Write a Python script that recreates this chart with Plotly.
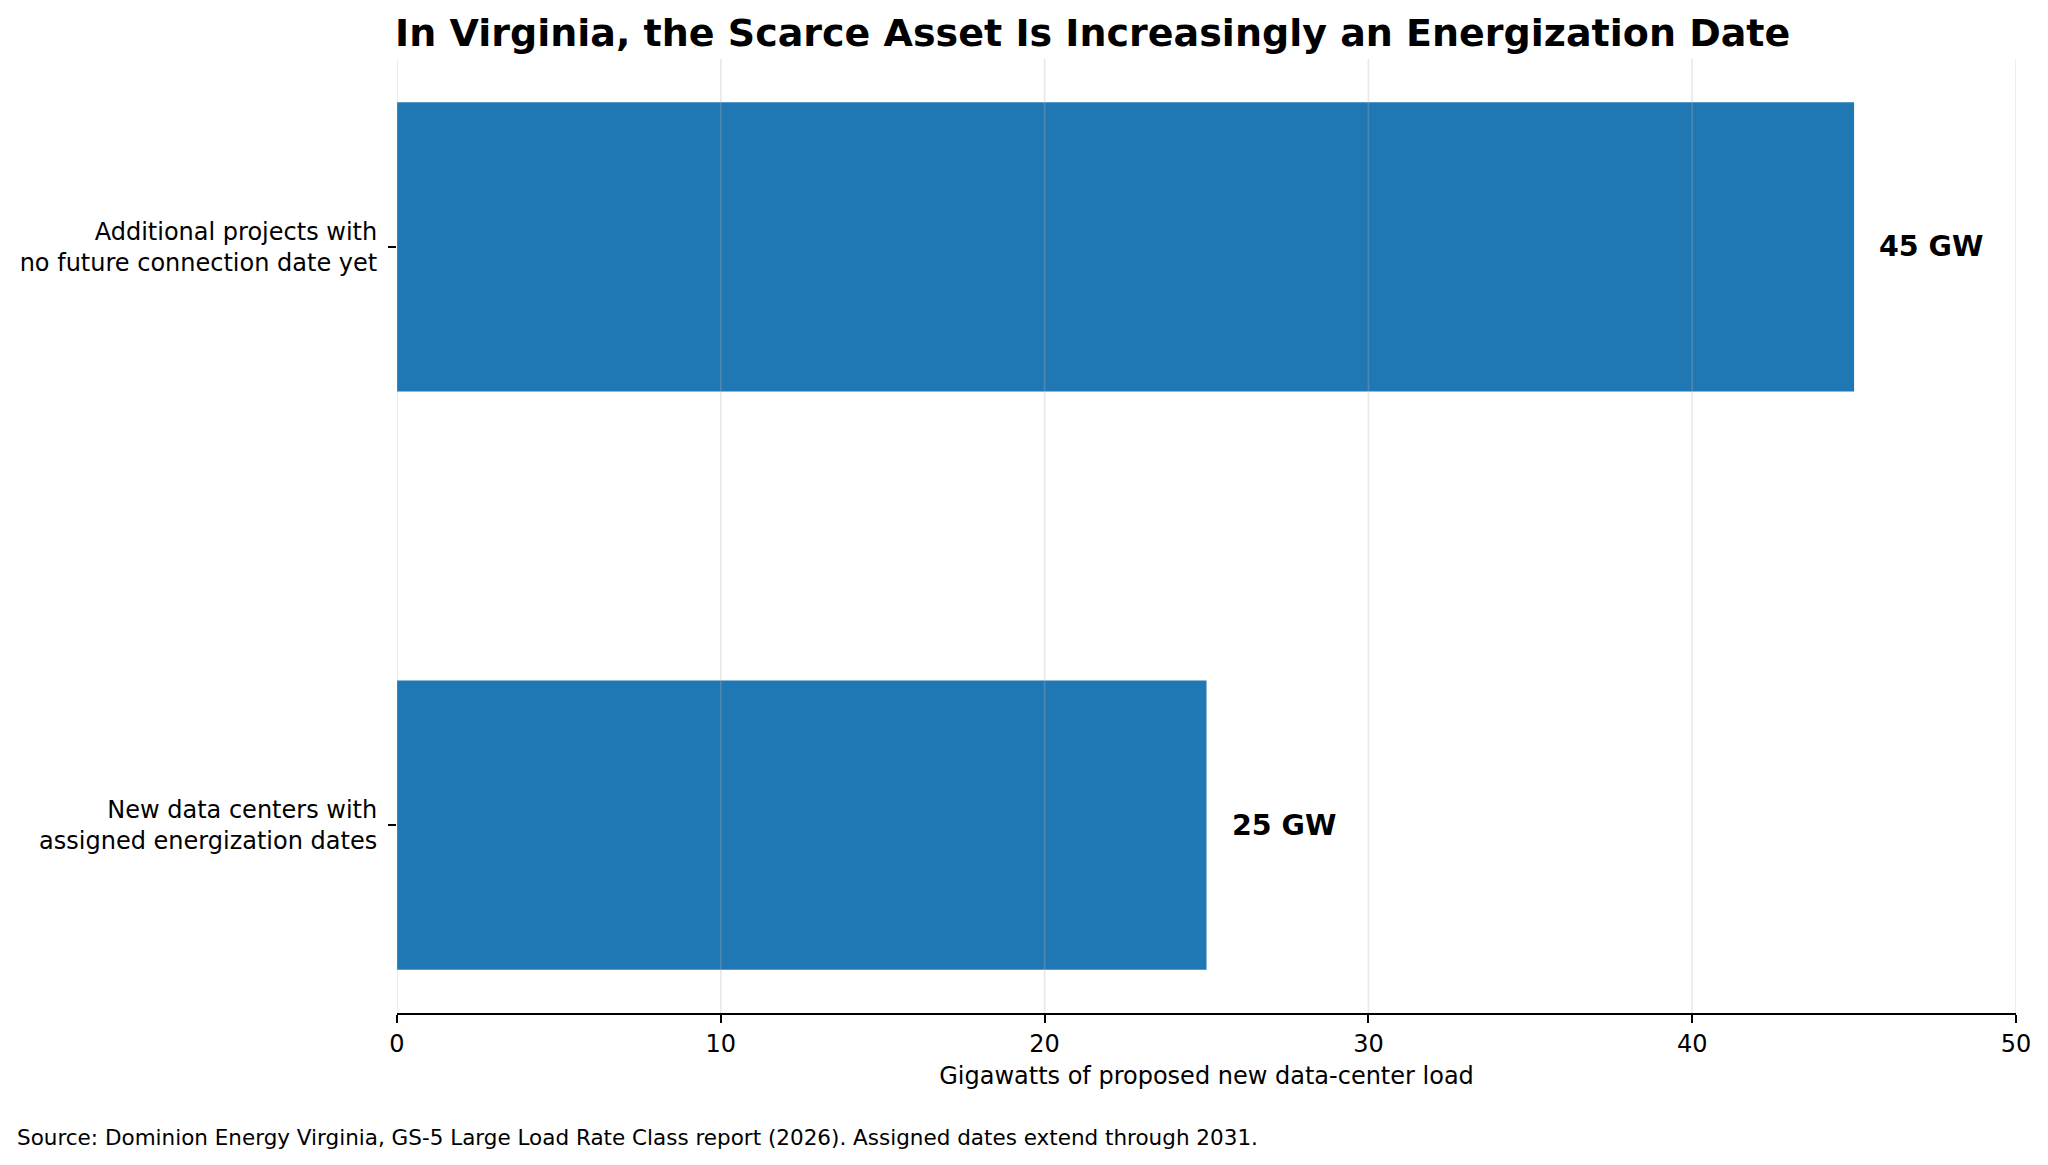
import plotly.graph_objects as go

# data
categories = [
    "New data centers with<br>assigned energization dates",
    "Additional projects with<br>no future connection date yet",
]
gigawatts = [25, 45]
bar_labels = ["25 GW", "45 GW"]
x_ticks = [0, 10, 20, 30, 40, 50]

title_text = "In Virginia, the Scarce Asset Is Increasingly an Energization Date"
x_title = "Gigawatts of proposed new data-center load"
source_text = ("Source: Dominion Energy Virginia, GS-5 Large Load Rate Class report (2026). "
               "Assigned dates extend through 2031.")

FONT = "DejaVu Sans"
BLUE = "#1f77b4"

fig = go.Figure()
fig.add_trace(go.Bar(
    x=gigawatts,
    y=categories,
    orientation="h",
    width=0.5,
    marker=dict(color=BLUE, line=dict(width=0)),
    hoverinfo="skip",
))

# value labels next to the bars
for val, cat, lab in zip(gigawatts, categories, bar_labels):
    fig.add_annotation(x=val, y=cat, text=lab, showarrow=False,
                       xanchor="left", yanchor="middle", xshift=23,
                       font=dict(family=FONT, size=28.5, color="black", weight="bold"))

# matplotlib-style grid drawn on top of the bars
for t in x_ticks:
    fig.add_shape(type="line", xref="x", yref="paper", x0=t, x1=t, y0=0, y1=1,
                  line=dict(color="rgba(180,180,180,0.3)", width=1.6), layer="above")

fig.add_annotation(xref="paper", yref="paper", x=-0.2357, y=-0.130,
                   text=source_text, showarrow=False, xanchor="left", yanchor="middle",
                   font=dict(family=FONT, size=21.5, color="black"))

# page body has an 8px margin, so the plot box is shifted by that
fig.update_layout(
    width=2048,
    height=1165,
    margin=dict(l=387, r=40, t=51, b=160),
    paper_bgcolor="white",
    plot_bgcolor="white",
    showlegend=False,
    font=dict(family=FONT, size=24, color="black"),
    title=dict(text=title_text, x=387 / 2048, xanchor="left", xref="container",
               y=1 - 25 / 1165, yanchor="middle", yref="container",
               font=dict(family=FONT, size=38, color="black", weight="bold")),
)

fig.update_xaxes(
    range=[0, 50],
    tickvals=x_ticks,
    showgrid=False,
    zeroline=False,
    showline=True,
    linecolor="black",
    linewidth=1.8,
    ticks="outside",
    ticklen=8,
    tickwidth=1.6,
    tickcolor="black",
    tickfont=dict(family=FONT, size=24),
    title=dict(text=x_title, standoff=10, font=dict(family=FONT, size=24)),
)

fig.update_yaxes(
    range=[-0.325, 1.325],
    showgrid=False,
    zeroline=False,
    showline=False,
    ticks="outside",
    ticklen=8,
    tickwidth=1.6,
    tickcolor="black",
    ticklabelstandoff=6,
    tickfont=dict(family=FONT, size=24),
)

fig.write_html("out.html")
